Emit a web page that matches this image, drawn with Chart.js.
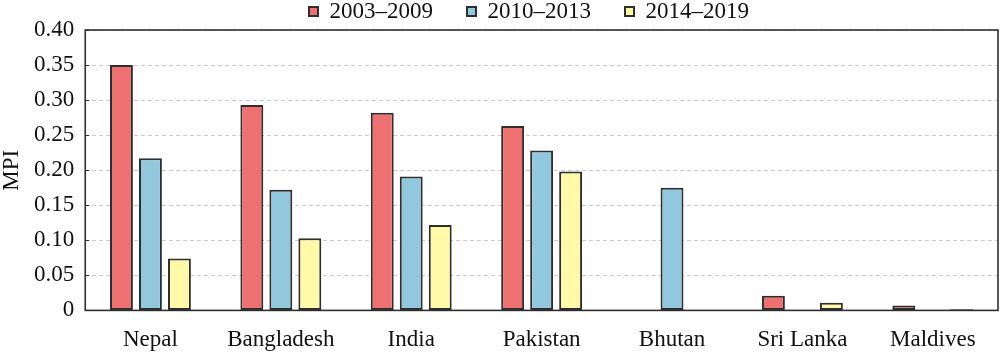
<!DOCTYPE html>
<html>
<head>
<meta charset="utf-8">
<script src="https://cdn.jsdelivr.net/npm/chart.js@4"></script>
<style>
  html, body { margin: 0; padding: 0; background: #fff; }
  #wrap { width: 1000px; height: 354px; }
</style>
</head>
<body>
<div id="wrap"><canvas id="c" width="1000" height="354"></canvas></div>
<script>
const categories = ['Nepal', 'Bangladesh', 'India', 'Pakistan', 'Bhutan', 'Sri Lanka', 'Maldives'];
const seriesNames = ['2003\u20132009', '2010\u20132013', '2014\u20132019'];
const values2003_2009 = [0.350, 0.293, 0.282, 0.263, null, 0.021, 0.007];
const values2010_2013 = [0.217, 0.172, 0.191, 0.228, 0.175, null, null];
const values2014_2019 = [0.074, 0.103, 0.122, 0.198, null, 0.011, 0.0015];
const yTickLabels = ['0', '0.05', '0.10', '0.15', '0.20', '0.25', '0.30', '0.35', '0.40'];

const FONT = 'Liberation Serif, Times New Roman, serif';
const EDGE = '#2e2e2e';
const FS = 23;

const framePlugin = {
  id: 'frame',
  afterLayout(chart) {
    const lg = chart.legend;
    if (lg) {
      lg.left += 30; lg.right += 30;
      lg.top -= 34;
    }
  },
  afterDatasetsDraw(chart) {
    const {ctx, chartArea: a, scales: {y}} = chart;
    ctx.save();
    ctx.strokeStyle = EDGE;
    ctx.lineWidth = 1.6;
    ctx.strokeRect(a.left, a.top, a.right - a.left, a.bottom - a.top);
    ctx.lineWidth = 1;
    ctx.beginPath();
    y.ticks.forEach(t => {
      const py = Math.round(y.getPixelForValue(t.value)) + 0.5;
      ctx.moveTo(a.left, py);
      ctx.lineTo(a.left + 4, py);
    });
    ctx.stroke();
    ctx.restore();
  }
};

const mk = (label, data, color) => ({
  label, data,
  backgroundColor: color,
  borderColor: EDGE,
  borderWidth: 2,
  borderSkipped: false,
  categoryPercentage: 0.667,
  barPercentage: 0.79
});

new Chart(document.getElementById('c'), {
  type: 'bar',
  data: {
    labels: categories,
    datasets: [
      mk(seriesNames[0], values2003_2009, '#EF7070'),
      mk(seriesNames[1], values2010_2013, '#92C8DD'),
      mk(seriesNames[2], values2014_2019, '#FFF9A8')
    ]
  },
  options: {
    responsive: false,
    animation: false,
    devicePixelRatio: 1,
    layout: { padding: { top: 0, right: 2, bottom: -16, left: 0 } },
    plugins: {
      tooltip: { enabled: false },
      legend: {
        position: 'top',
        maxHeight: 30,
        labels: {
          boxWidth: 9,
          boxHeight: 9,
          padding: 34,
          color: '#111',
          font: { family: FONT, size: FS }
        }
      }
    },
    scales: {
      x: {
        grid: { display: false, drawTicks: false },
        border: { display: false },
        ticks: {
          padding: 16,
          color: '#111',
          font: { family: FONT, size: FS },
          maxRotation: 0
        }
      },
      y: {
        min: 0,
        max: 0.4,
        grid: {
          color: '#cfc9c9',
          lineWidth: 1,
          drawTicks: false
        },
        border: { display: false, dash: [4, 3] },
        ticks: {
          stepSize: 0.05,
          padding: 11,
          color: '#111',
          font: { family: FONT, size: FS },
          callback: (v, i) => yTickLabels[i]
        },
        title: {
          display: true,
          text: 'MPI',
          color: '#111',
          font: { family: FONT, size: FS, lineHeight: 1 },
          padding: { top: 0, bottom: 0 }
        }
      }
    }
  },
  plugins: [framePlugin]
});
</script>
</body>
</html>
